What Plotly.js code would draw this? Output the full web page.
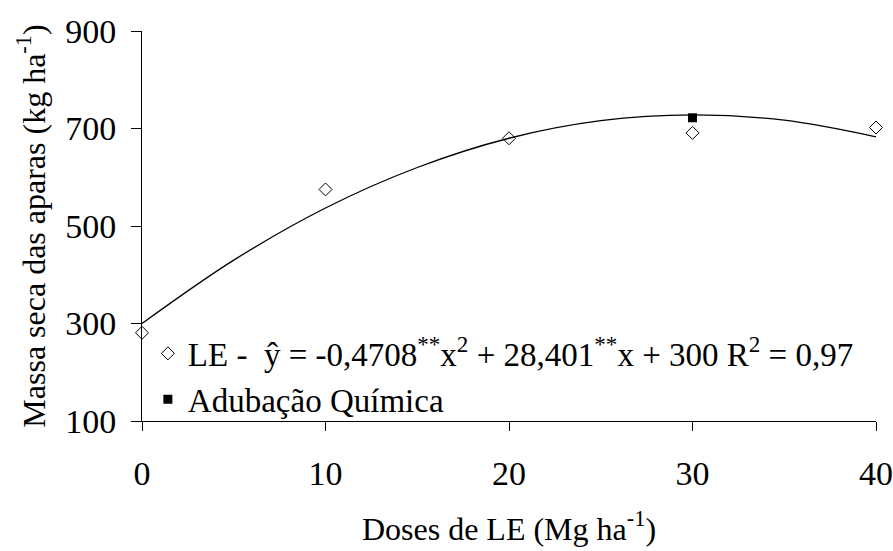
<!DOCTYPE html>
<html>
<head>
<meta charset="utf-8">
<script src="https://cdn.plot.ly/plotly-3.0.1.min.js"></script>
<style>html,body{margin:0;padding:0;background:#fff;}</style>
</head>
<body>
<div id="chart" style="width:893px;height:551px;"></div>
<script>
// Observed LE doses and dry mass
const doses = [0, 10, 20, 30, 40];
const massaLE = [281, 575, 680, 691, 702];
// Chemical fertilization (single point)
const dosesQuimica = [30];
const massaQuimica = [722];
// Fitted curve values
const curveX = [0, 5, 10, 15, 20, 25, 30, 35, 40];
const curveY = [300, 430, 537, 620, 680, 716, 728, 717, 683];
// Axis ticks
const xTicks = [0, 10, 20, 30, 40];
const yTicks = [100, 300, 500, 700, 900];

const fontFam = '"Liberation Serif", "Times New Roman", serif';
const fs = 34;

const traces = [
  {
    x: curveX, y: curveY, mode: 'lines', type: 'scatter',
    line: {color: '#000', width: 1.3, shape: 'spline'},
    showlegend: false, hoverinfo: 'skip'
  },
  {
    x: doses, y: massaLE, mode: 'markers', type: 'scatter', cliponaxis: false,
    name: 'LE -  ŷ = -0,4708<sup>**</sup>x<sup>2</sup> + 28,401<sup>**</sup>x + 300 R<sup>2</sup> = 0,97',
    marker: {symbol: 'diamond-open', size: 10, color: '#000', line: {color: '#000', width: 1}}
  },
  {
    x: dosesQuimica, y: massaQuimica, mode: 'markers', type: 'scatter', cliponaxis: false,
    name: 'Adubação Química',
    marker: {symbol: 'square', size: 9, color: '#000', line: {color: '#000', width: 0}}
  }
];

const layout = {
  width: 893, height: 551,
  margin: {l: 142, r: 17, t: 31, b: 130},
  paper_bgcolor: '#fff', plot_bgcolor: '#fff',
  font: {family: fontFam, size: fs, color: '#000'},
  showlegend: true,
  legend: {
    x: 0.008, y: 0.245, xanchor: 'left', yanchor: 'top',
    bgcolor: 'rgba(0,0,0,0)', borderwidth: 0,
    font: {family: fontFam, size: 33, color: '#000'},
    itemsizing: 'trace', tracegroupgap: 0
  },
  xaxis: {
    range: [0, 40], tickvals: xTicks, ticktext: xTicks.map(String),
    ticks: 'outside', ticklen: 9, tickwidth: 1, tickcolor: '#000',
    showline: true, linecolor: '#000', linewidth: 1,
    showgrid: false, zeroline: false,
    ticklabelstandoff: 13,
    tickfont: {family: fontFam, size: fs, color: '#000'},
    title: {text: 'Doses de LE (Mg ha<sup>-1</sup>)', font: {family: fontFam, size: 32, color: '#000'}, standoff: 26}
  },
  yaxis: {
    range: [100, 900], tickvals: yTicks, ticktext: yTicks.map(String),
    ticks: 'outside', ticklen: 10, tickwidth: 1, tickcolor: '#000',
    showline: true, linecolor: '#000', linewidth: 1,
    showgrid: false, zeroline: false,
    ticklabelstandoff: 8,
    tickfont: {family: fontFam, size: fs, color: '#000'},
    title: {text: 'Massa seca das aparas (kg ha<sup>-1</sup>)', font: {family: fontFam, size: 32, color: '#000'}, standoff: 10}
  }
};

Plotly.newPlot('chart', traces, layout, {displayModeBar: false, staticPlot: true});
</script>
</body>
</html>
